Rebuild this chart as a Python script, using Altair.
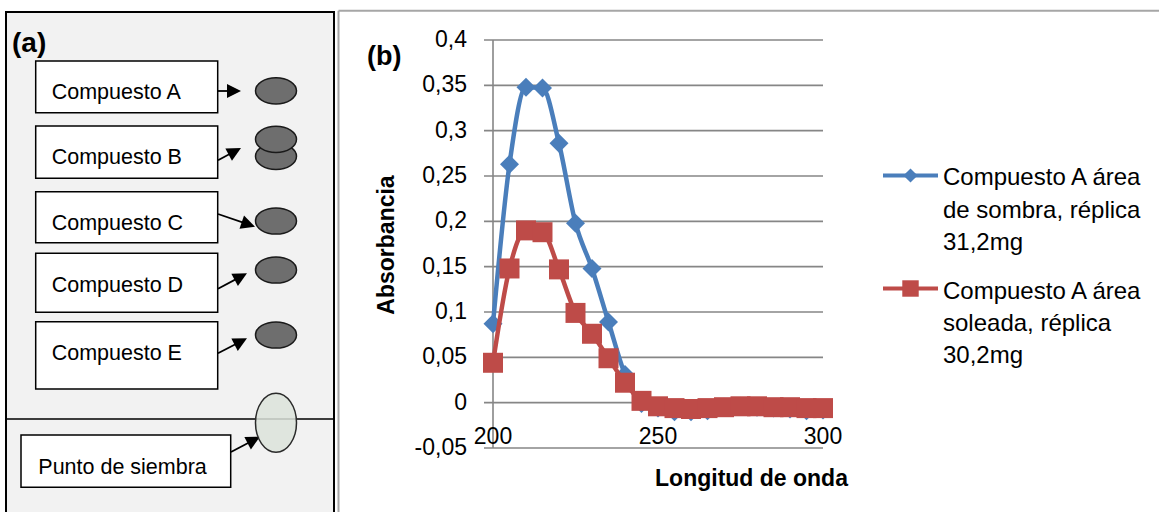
import math
import altair as alt
import pandas as pd

# ---------------- data (panel b) ----------------
wavelength = [200, 205, 210, 215, 220, 225, 230, 235, 240, 245, 250,
              255, 260, 265, 270, 275, 280, 285, 290, 295, 300]
abs_sombra = [0.087, 0.263, 0.348, 0.347, 0.286, 0.198, 0.148, 0.089, 0.031, -0.001, -0.006,
              -0.010, -0.010, -0.009, -0.005, -0.004, -0.005, -0.006, -0.007, -0.009, -0.008]
abs_soleada = [0.044, 0.148, 0.190, 0.188, 0.147, 0.099, 0.076, 0.049, 0.022, 0.002, -0.004,
               -0.006, -0.007, -0.006, -0.005, -0.004, -0.004, -0.005, -0.005, -0.006, -0.006]
series_names = ["Compuesto A área de sombra, réplica 31,2mg",
                "Compuesto A área soleada, réplica 30,2mg"]
legend_text = ["Compuesto A área\nde sombra, réplica\n31,2mg",
               "Compuesto A área\nsoleada, réplica\n30,2mg"]
series_colors = ["#4a7ebb", "#be4b48"]
y_ticks = [-0.05, 0, 0.05, 0.1, 0.15, 0.2, 0.25, 0.3, 0.35, 0.4]
y_tick_labels = ["-0,05", "0", "0,05", "0,1", "0,15", "0,2", "0,25", "0,3", "0,35", "0,4"]
x_ticks = [200, 250, 300]
x_tick_labels = ["200", "250", "300"]
x_title = "Longitud de onda"
y_title = "Absorbancia"

# ---------------- diagram (panel a) ----------------
compound_labels = ["Compuesto A", "Compuesto B", "Compuesto C", "Compuesto D",
                   "Compuesto E", "Punto de siembra"]

# layout of the diagram (pixels)
box_x1 = [35.7, 35.7, 35.7, 35.7, 35.7, 21.0]
box_x2 = [217.7, 217.7, 217.7, 217.7, 217.7, 230.7]
box_y1 = [61.0, 126.0, 191.7, 253.3, 321.7, 435.0]
box_y2 = [112.7, 178.3, 242.7, 312.3, 389.0, 487.3]
text_x = [51.7, 51.7, 51.7, 51.7, 51.7, 38.3]
text_y = [93.2, 158.2, 224.0, 285.7, 354.2, 467.5]
spot_x = [276, 276, 276, 276, 276, 276]
spot_y = [90.8, 156.3, 139.3, 221.0, 270.0, 335.0]
arrow_start = [(218, 91.0), (218, 160.3), (218, 214.0), (218, 288.7), (218, 353.3), (231, 452.0)]
arrow_tip = [(241, 91.0), (241, 148.0), (255, 226.7), (247, 273.3), (247, 338.3), (260, 436.7)]
seed_spot = (276, 422.7)

FONT = "Liberation Sans, Arial, sans-serif"

px = dict(scale=None, axis=None)

boxes = pd.DataFrame({"label": compound_labels, "x1": box_x1, "x2": box_x2,
                      "y1": box_y1, "y2": box_y2, "tx": text_x, "ty": text_y})
spots = pd.DataFrame({"x": spot_x, "y": spot_y})
arrows = []
head_half = 7.0
for (sx, sy), (tx, ty) in zip(arrow_start, arrow_tip):
    dx, dy = tx - sx, ty - sy
    L = math.hypot(dx, dy)
    ux, uy = dx / L, dy / L
    cx, cy = tx - head_half * ux, ty - head_half * uy
    ang = math.degrees(math.atan2(dy, dx)) % 360
    arrows.append({"sx": sx, "sy": sy, "cx": cx, "cy": cy, "angle": ang})
arrows = pd.DataFrame(arrows)
seed = pd.DataFrame({"x": [seed_spot[0]], "y": [seed_spot[1]]})

frame_a = alt.Chart(pd.DataFrame({"a": [0]})).mark_rect(
    fill="#f2f2f2", stroke="#000000", strokeWidth=2
).encode(x=alt.value(6), x2=alt.value(334), y=alt.value(12), y2=alt.value(540))
divider = alt.Chart(pd.DataFrame({"a": [0]})).mark_rule(color="#000000", strokeWidth=1.5).encode(
    x=alt.value(6), x2=alt.value(334), y=alt.value(419))
frame_b_v = alt.Chart(pd.DataFrame({"a": [0]})).mark_rule(color="#a6a6a6", strokeWidth=2).encode(
    x=alt.value(338.5), y=alt.value(10.7), y2=alt.value(512))
frame_b_h = alt.Chart(pd.DataFrame({"a": [0]})).mark_rule(color="#a6a6a6", strokeWidth=2).encode(
    x=alt.value(338.5), x2=alt.value(1159), y=alt.value(10.7))

box_rects = alt.Chart(boxes).mark_rect(fill="white", stroke="black", strokeWidth=1.5).encode(
    x=alt.X("x1:Q", **px), x2="x2:Q", y=alt.Y("y1:Q", **px), y2="y2:Q")
box_text = alt.Chart(boxes).mark_text(
    align="left", baseline="middle", font=FONT, fontSize=21.5, color="black"
).encode(x=alt.X("tx:Q", **px), y=alt.Y("ty:Q", **px), text="label:N")

ellipse_path = "M -1 0 A 1 0.64 0 1 0 1 0 A 1 0.64 0 1 0 -1 0 Z"
spot_marks = alt.Chart(spots).mark_point(
    shape=ellipse_path, size=41 * 41, filled=True, fill="#6e6e6e", stroke="#1a1a1a",
    strokeWidth=1.5, opacity=1
).encode(x=alt.X("x:Q", **px), y=alt.Y("y:Q", **px))
seed_path = "M 0 -1 A 0.695 1 0 1 0 0 1 A 0.695 1 0 1 0 0 -1 Z"
seed_mark = alt.Chart(seed).mark_point(
    shape=seed_path, size=59 * 59, filled=True, fill="#dce3da", fillOpacity=0.85,
    stroke="#2a2a2a", strokeWidth=1.5, opacity=1
).encode(x=alt.X("x:Q", **px), y=alt.Y("y:Q", **px))

arrow_lines = alt.Chart(arrows).mark_rule(color="black", strokeWidth=1.8).encode(
    x=alt.X("sx:Q", **px), x2="cx:Q", y=alt.Y("sy:Q", **px), y2="cy:Q")
arrow_heads = alt.Chart(arrows).mark_point(
    shape="M -1 -1 L 1 0 L -1 1 Z", size=196, filled=True, color="black", opacity=1
).encode(x=alt.X("cx:Q", **px), y=alt.Y("cy:Q", **px), angle=alt.Angle("angle:Q", scale=None))

label_a = alt.Chart(pd.DataFrame({"t": ["(a)"]})).mark_text(
    font=FONT, fontWeight="bold", fontSize=28, align="left", baseline="middle", color="black"
).encode(x=alt.value(12), y=alt.value(44), text="t:N")

diagram = alt.layer(frame_a, divider, frame_b_v, frame_b_h, box_rects, box_text,
                    arrow_lines, arrow_heads, spot_marks, seed_mark, label_a)

# ---------------- chart (panel b) ----------------
xs = alt.Scale(domain=[200, 300], range=[493, 823], nice=False, zero=False)
ys = alt.Scale(domain=[-0.05, 0.4], range=[448, 40], nice=False, zero=False)

long_df = pd.concat([
    pd.DataFrame({"wl": wavelength, "abs": abs_sombra, "serie": series_names[0]}),
    pd.DataFrame({"wl": wavelength, "abs": abs_soleada, "serie": series_names[1]}),
])
ytick_df = pd.DataFrame({"v": y_ticks, "lab": y_tick_labels})
xtick_df = pd.DataFrame({"v": x_ticks, "lab": x_tick_labels})

grid = alt.Chart(ytick_df).mark_rule(color="#868686", strokeWidth=1.6, xOffset=-9).encode(
    x=alt.datum(200, scale=xs, axis=None), x2=alt.datum(300),
    y=alt.Y("v:Q", scale=ys, axis=None))
yaxis_line = alt.Chart(pd.DataFrame({"a": [0]})).mark_rule(color="#868686", strokeWidth=1.6).encode(
    x=alt.datum(200, scale=xs, axis=None), y=alt.datum(-0.05, scale=ys, axis=None), y2=alt.datum(0.4))
ylabels = alt.Chart(ytick_df).mark_text(
    align="right", baseline="middle", dx=-26, font=FONT, fontSize=23, color="black"
).encode(x=alt.datum(200, scale=xs, axis=None), y=alt.Y("v:Q", scale=ys, axis=None), text="lab:N")
xlabels = alt.Chart(xtick_df).mark_text(
    align="center", baseline="middle", dy=34, font=FONT, fontSize=23, color="black"
).encode(x=alt.X("v:Q", scale=xs, axis=None), y=alt.datum(0, scale=ys, axis=None), text="lab:N")

def series_layers(name, color, shape, size):
    d = long_df[long_df["serie"] == name]
    line = alt.Chart(d).mark_line(color=color, strokeWidth=4.5, interpolate="monotone").encode(
        x=alt.X("wl:Q", scale=xs, axis=None), y=alt.Y("abs:Q", scale=ys, axis=None))
    pts = alt.Chart(d).mark_point(shape=shape, size=size, filled=True, color=color, opacity=1).encode(
        x=alt.X("wl:Q", scale=xs, axis=None), y=alt.Y("abs:Q", scale=ys, axis=None))
    return [line, pts]

curves = series_layers(series_names[0], series_colors[0], "diamond", 360) + \
         series_layers(series_names[1], series_colors[1], "square", 400)

titles = alt.Chart(pd.DataFrame({"t": [x_title]})).mark_text(
    font=FONT, fontWeight="bold", fontSize=23, align="center", baseline="middle", color="black"
).encode(x=alt.value(751.5), y=alt.value(479), text="t:N")
ytitle = alt.Chart(pd.DataFrame({"t": [y_title]})).mark_text(
    font=FONT, fontWeight="bold", fontSize=23, align="center", baseline="middle", angle=270,
    color="black"
).encode(x=alt.value(387), y=alt.value(245), text="t:N")
label_b = alt.Chart(pd.DataFrame({"t": ["(b)"]})).mark_text(
    font=FONT, fontWeight="bold", fontSize=27, align="left", baseline="middle", color="black"
).encode(x=alt.value(367), y=alt.value(57), text="t:N")

# legend (drawn by hand)
leg_df = pd.DataFrame({"serie": series_names, "txt": legend_text,
                       "y": [175.5, 288.5], "ty": [166.3, 279.6],
                       "x1": [883, 883], "x2": [938, 938], "mx": [910.5, 910.5], "tx": [943, 943]})
leg_layers = []
for i, (shape, size) in enumerate([("diamond", 200), ("square", 270)]):
    row = leg_df.iloc[[i]]
    leg_layers.append(alt.Chart(row).mark_rule(color=series_colors[i], strokeWidth=4).encode(
        x=alt.X("x1:Q", **px), x2="x2:Q", y=alt.Y("y:Q", **px)))
    leg_layers.append(alt.Chart(row).mark_point(shape=shape, size=size, filled=True,
                                                 color=series_colors[i], opacity=1).encode(
        x=alt.X("mx:Q", **px), y=alt.Y("y:Q", **px)))
legend_txt = alt.Chart(leg_df).mark_text(
    align="left", baseline="top", lineBreak="\n", lineHeight=32.3, font=FONT, fontSize=24,
    color="black"
).encode(x=alt.X("tx:Q", **px), y=alt.Y("ty:Q", **px), text="txt:N")
legend = alt.layer(*leg_layers, legend_txt)

panel_b = alt.layer(grid, yaxis_line, ylabels, xlabels, *curves, titles, ytitle, label_b)

chart = alt.layer(diagram, panel_b, legend).resolve_scale(
    x="independent", y="independent"
).properties(
    width=1159, height=512, padding=0, autosize=alt.AutoSizeParams(type="none"),
    background="white"
).configure_view(stroke=None)

chart.save("out.html", embed_options={"renderer": "svg", "actions": False})
